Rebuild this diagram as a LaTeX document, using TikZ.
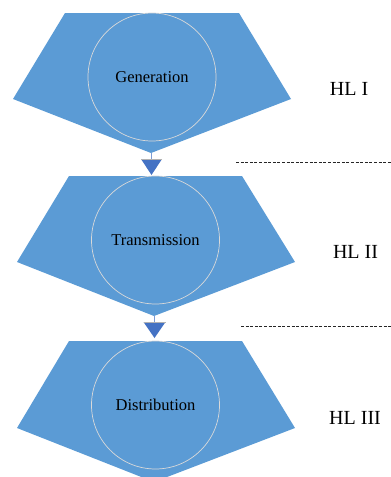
\documentclass[tikz,border=0pt]{standalone}
\usepackage{fontspec}
\setmainfont{Liberation Serif}
\definecolor{shapeblue}{HTML}{5B9BD5}
\definecolor{arrowblue}{HTML}{4472C4}
\definecolor{ringgray}{HTML}{D9D9D9}
\begin{document}
\begin{tikzpicture}[x=1pt,y=-1pt,
  level/.style={fill=shapeblue, draw=none},
  ring/.style={circle, draw=ringgray, line width=0.7pt, minimum size=128pt, inner sep=0pt, font=\fontsize{16.5}{18}\selectfont},
  hl/.style={font=\fontsize{20}{22}\selectfont},
  sep/.style={draw=black!85, line width=0.8pt, dash pattern=on 3pt off 1.6pt},
  conn/.style={draw=arrowblue!70, line width=0.8pt},
  tri/.style={fill=arrowblue},
  tritop/.style={draw=gray!60, line width=0.8pt}]
\useasboundingbox (0,0) rectangle (391,477);
\begin{scope}
\clip (0,0) rectangle (391,477);
% level shapes
\fill[level] (65,13) -- (239,13) -- (291,99) -- (151,153) -- (13,99) -- cycle;
\fill[level] (69,176) -- (242,176) -- (295,262) -- (154,316) -- (17,262) -- cycle;
\fill[level] (69,341) -- (242,341) -- (295,428) -- (154,482) -- (17,428) -- cycle;
\end{scope}
% circles with labels
\node[ring] (gen) at (152,77) {Generation};
\node[ring] (tra) at (155.5,240) {Transmission};
\node[ring] (dis) at (155.5,405) {Distribution};
% connectors
\coordinate (tip1) at (151,153);
\coordinate (a1) at (151,159);
\coordinate (tip2) at (154,316);
\coordinate (a2) at (154,322);
\draw[conn] (tip1) -- (a1);
\draw[conn] (tip2) -- (a2);
\fill[tri] (141,159) -- (162,159) -- (151.5,175) -- cycle;
\draw[tritop] (141,159) -- (162,159);
\fill[tri] (143.5,322) -- (165.5,322) -- (154.5,338) -- cycle;
\draw[tritop] (143.5,322) -- (165.5,322);
% separators
\coordinate (s1a) at (236,162);
\coordinate (s1b) at (391,162);
\coordinate (s2a) at (241,326);
\coordinate (s2b) at (391,326);
\draw[sep] (s1a) -- (s1b);
\draw[sep] (s2a) -- (s2b);
% level labels
\node[hl] (hl1) at (349,89) {HL I};
\node[hl] (hl2) at (355.5,252) {HL II};
\node[hl] (hl3) at (355,418) {HL III};
\end{tikzpicture}
\end{document}
